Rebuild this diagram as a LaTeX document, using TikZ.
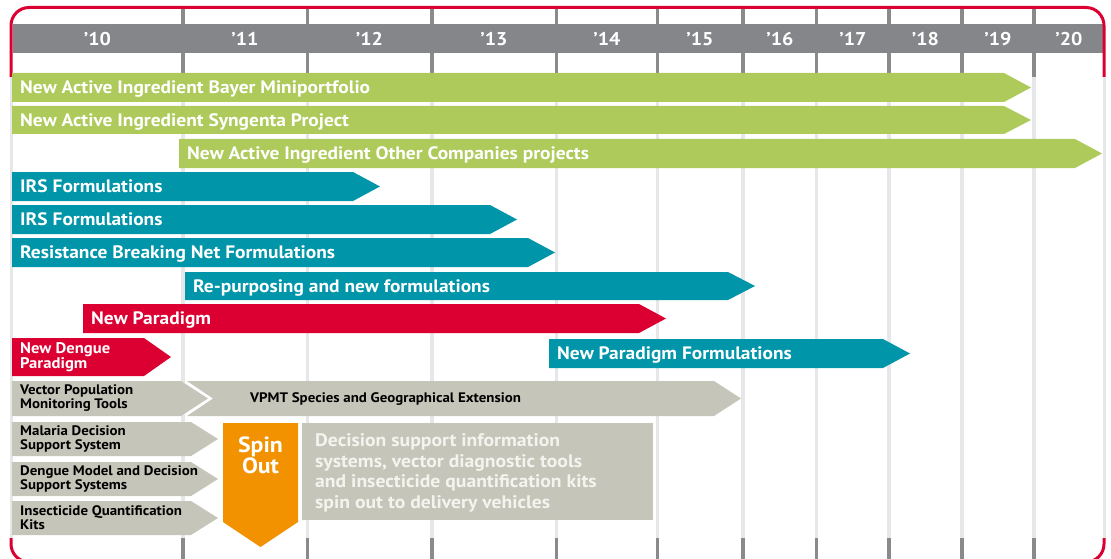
\documentclass[tikz,border=0pt]{standalone}
\usepackage{fontspec}
\setmainfont{PT Sans}[FakeStretch=1.08]
\usetikzlibrary{positioning}
\definecolor{aigreen}{HTML}{AECA5A}
\definecolor{formteal}{HTML}{0095A9}
\definecolor{parared}{HTML}{DC0032}
\definecolor{toolgrey}{HTML}{C6C5B9}
\definecolor{spinorange}{HTML}{F39200}
\definecolor{headgrey}{HTML}{858689}
\definecolor{gridlight}{HTML}{E6E7E9}
\definecolor{griddark}{HTML}{8A8A8C}
\definecolor{infotext}{HTML}{F4F4EF}

\tikzset{
  barlabel/.style={text=white, font=\bfseries\fontsize{18}{18}\selectfont, inner sep=0pt, anchor=west, text height=12.5pt, text depth=0pt},
  toollabel/.style={text=black, font=\bfseries\fontsize{13.8}{14}\selectfont, inner sep=0pt, anchor=west, align=left},
  denguelabel/.style={text=white, font=\bfseries\fontsize{15.4}{15}\selectfont, inner sep=0pt, anchor=west, align=left},
  yearlabel/.style={text=white, font=\bfseries\fontsize{18.5}{19}\selectfont, inner sep=0pt},
  frameline/.style={draw=parared, line width=3pt, rounded corners=18pt},
}

% one bar of the plan: style, name, left, tip, top, bottom, colour, text
\newcommand{\taskbar}[8][barlabel]{%
  \fill[#7] (#3,#5) -- ({#4-27},#5) -- (#4,{(#5+#6)/2}) -- ({#4-27},#6) -- (#3,#6) -- cycle;
  \node[#1] (#2) at ({#3+8},{(#5+#6)/2}) {#8};
}

\begin{document}
\begin{tikzpicture}[x=1pt, y=-1pt]
  \useasboundingbox (0,0) rectangle (1111,559);
  \clip (0,0) rectangle (1111,559);

  % year grid
  \foreach \gx in {183,307.5,432,556.5,657.5,743,816.5,889,962,1034} {
    \draw[griddark, line width=3.5pt] (\gx,8) -- (\gx,77);
    \draw[gridlight, line width=3.5pt] (\gx,77) -- (\gx,538);
    \draw[griddark, line width=3.5pt] (\gx,538) -- (\gx,560);
  }
  \draw[gridlight, line width=3pt] (11.5,77) -- (11.5,538);
  \draw[gridlight, line width=3pt] (1104,77) -- (1104,538);

  % header
  \fill[headgrey] (12.5,24) rectangle (1102.5,53);
  \draw[frameline] (11,77) -- (11,7.5) -- (1104,7.5) -- (1104,77);
  \draw[frameline] (11,538) -- (11,562) -- (60,562);
  \draw[frameline] (1104,538) -- (1104,562) -- (1050,562);
  \foreach \cx/\yr in {97.5/10,245/11,369.5/12,494/13,607/14,700/15,780/16,853/17,925.5/18,998/19,1069/20}
    \node[yearlabel] (hdr\yr) at (\cx,39) {’\yr};

  % active ingredients
  \taskbar{bayer}{12}{1031}{73}{102}{aigreen}{New Active Ingredient Bayer Miniportfolio}
  \taskbar{syngenta}{12}{1031}{106}{134}{aigreen}{New Active Ingredient Syngenta Project}
  \taskbar{others}{179}{1102}{139}{168}{aigreen}{New Active Ingredient Other Companies projects}

  % formulations
  \taskbar{irsA}{12}{380}{172}{201}{formteal}{IRS Formulations}
  \taskbar{irsB}{12}{517}{205}{234}{formteal}{IRS Formulations}
  \taskbar{rbnet}{12}{555}{238}{267}{formteal}{Resistance Breaking Net Formulations}
  \taskbar{repurp}{185}{755}{272}{300}{formteal}{Re-purposing and new formulations}
  \taskbar{newpar}{83}{666}{304}{333}{parared}{New Paradigm}
  \taskbar[denguelabel]{dengue}{12}{171}{338}{376}{parared}{New Dengue\\Paradigm}
  \taskbar{npform}{549}{910}{339}{368}{formteal}{New Paradigm Formulations}

  % tools
  \taskbar[toollabel]{vpmt}{12}{208}{381}{416}{toolgrey}{Vector Population\\Monitoring Tools}
  \fill[toolgrey] (187,381) -- (714,381) -- (741,398.5) -- (714,416) -- (187,416) -- (213,398.5) -- cycle;
  \node[toollabel] (vpmtext) at (250,399) {VPMT Species and Geographical Extension};
  \taskbar[toollabel]{malaria}{12}{218}{422}{456}{toolgrey}{Malaria Decision\\Support System}
  \taskbar[toollabel]{denguemodel}{12}{218}{462}{496}{toolgrey}{Dengue Model and Decision\\Support Systems}
  \taskbar[toollabel]{iqkits}{12}{218}{501}{535}{toolgrey}{Insecticide Quantification\\Kits}

  % spin out
  \fill[spinorange] (223,423) -- (298,423) -- (298,522) -- (260.5,547) -- (223,522) -- cycle;
  \node[text=white, font=\bfseries\fontsize{22}{21}\selectfont, align=center, inner sep=0pt] (spin) at (260.5,455) {Spin\\Out};
  \fill[toolgrey] (302,423) rectangle (653,520);
  \node[text=infotext, font=\bfseries\fontsize{18.2}{20.7}\selectfont, align=left, inner sep=0pt, anchor=west] (info) at (315,473)
    {Decision support information\\systems, vector diagnostic tools\\and insecticide quantification kits\\spin out to delivery vehicles};
\end{tikzpicture}
\end{document}
